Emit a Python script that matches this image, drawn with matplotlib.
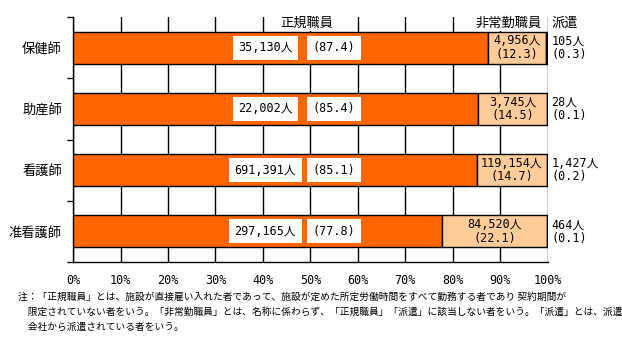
import matplotlib.pyplot as plt

plt.rcParams["font.family"] = ["Noto Sans CJK JP", "DejaVu Sans"]

# 職種ごとの雇用形態別割合（%）と人数
categories = ["保健師", "助産師", "看護師", "准看護師"]
regular_pct = [87.4, 85.4, 85.1, 77.8]
parttime_pct = [12.3, 14.5, 14.7, 22.1]
dispatch_pct = [0.3, 0.1, 0.2, 0.1]
regular_n = ["35,130", "22,002", "691,391", "297,165"]
parttime_n = ["4,956", "3,745", "119,154", "84,520"]
dispatch_n = ["105", "28", "1,427", "464"]
series_names = ["正規職員", "非常勤職員", "派遣"]
xticks = list(range(0, 101, 10))

ORANGE = "#FF6600"
PEACH = "#FFCC99"
NUMFONT = ["DejaVu Sans Mono", "Noto Sans CJK JP"]

fig = plt.figure(figsize=(6.22, 3.45), dpi=100)
ax = fig.add_axes([0.1174, 0.2406, 0.7633, 0.7101])

ypos = list(range(len(categories)))
h = 0.525
left2 = [a for a in regular_pct]
left3 = [a + b for a, b in zip(regular_pct, parttime_pct)]
ax.barh(ypos, regular_pct, height=h, color=ORANGE, edgecolor="black", lw=1, zorder=3)
ax.barh(ypos, parttime_pct, left=left2, height=h, color=PEACH, edgecolor="black", lw=1, zorder=3)
ax.barh(ypos, dispatch_pct, left=left3, height=h, color="black", edgecolor="black", lw=1, zorder=3)

ax.set_xlim(0, 100)
ax.set_ylim(len(categories) - 0.5, -0.5)
ax.set_xticks(xticks, [f"{v}%" for v in xticks], fontsize=8.5, family=NUMFONT)
ax.tick_params(axis="x", length=0, pad=9)
ax.xaxis.grid(True, color="black", lw=1)
ax.set_axisbelow(True)

# 区切りの目盛りと職種名
ax.set_yticks([i - 0.5 for i in range(len(categories) + 1)], [])
ax.tick_params(axis="y", which="major", length=4, width=1, direction="out")
ax.set_yticks(ypos, categories, minor=True, fontsize=9.5)
ax.tick_params(axis="y", which="minor", length=0, pad=8)

for s in ["top", "right"]:
    ax.spines[s].set_visible(False)
for s in ["left", "bottom"]:
    ax.spines[s].set_linewidth(1)

box = dict(facecolor="white", edgecolor="none", pad=4)
for i in ypos:
    ax.text(40.5, i, f"{regular_n[i]}人", ha="center", va="center", fontsize=8.5,
            family=NUMFONT, bbox=box, zorder=4)
    ax.text(55, i, f"({regular_pct[i]})", ha="center", va="center", fontsize=8.5,
            family=NUMFONT, bbox=box, zorder=4)
    ax.text(regular_pct[i] + parttime_pct[i] / 2, i,
            f"{parttime_n[i]}人\n({parttime_pct[i]})", ha="center", va="center",
            fontsize=8.5, family=NUMFONT, linespacing=1.05, zorder=4)
    ax.text(100.8, i, f"{dispatch_n[i]}人\n({dispatch_pct[i]})", ha="left", va="center",
            fontsize=8.5, family=NUMFONT, linespacing=1.05, clip_on=False)

# 系列名
hbox = dict(facecolor="white", edgecolor="none", pad=1)
ax.text(49.3, -0.40, series_names[0], ha="center", va="center", fontsize=9.5, bbox=hbox, zorder=4)
ax.text(91.8, -0.40, series_names[1], ha="center", va="center", fontsize=9.5, bbox=hbox, zorder=4)
ax.text(100.8, -0.40, series_names[2], ha="left", va="center", fontsize=9.5, clip_on=False)

note = ("注：「正規職員」とは、施設が直接雇い入れた者であって、施設が定めた所定労働時間をすべて勤務する者であり 契約期間が\n"
        "　限定されていない者をいう。「非常勤職員」とは、名称に係わらず、「正規職員」「派遣」に該当しない者をいう。「派遣」とは、派遣\n"
        "　会社から派遣されている者をいう。")
fig.text(18 / 622, 1 - 292 / 345, note, ha="left", va="top", fontsize=7, linespacing=1.6)

fig.savefig("out.png", dpi=100)
